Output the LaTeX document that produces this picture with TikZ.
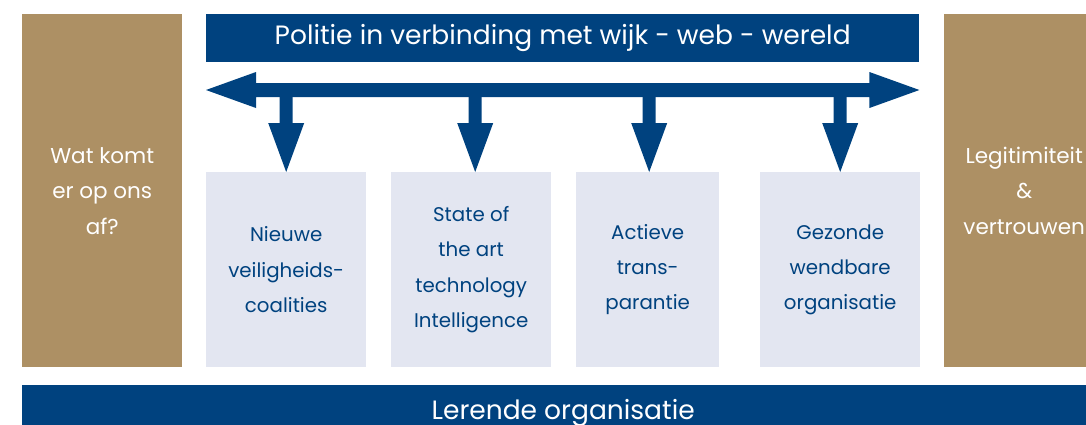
\documentclass[tikz,border=0pt]{standalone}
\usepackage{fontspec}
\setmainfont{Poppins}
\usetikzlibrary{calc}
\definecolor{pblue}{HTML}{00427F}
\definecolor{pgold}{HTML}{AD9064}
\definecolor{plight}{HTML}{E3E6F1}
\tikzset{
  goldbox/.style={fill=pgold, text=white, inner sep=0pt, anchor=north west,
    minimum width=160pt, minimum height=353pt, align=center,
    font=\fontsize{21.5}{35.5}\selectfont},
  lightbox/.style={fill=plight, text=pblue, inner sep=0pt, anchor=north west,
    minimum height=195pt, align=center, font=\fontsize{19.8}{35.3}\selectfont},
  bluebar/.style={fill=pblue, text=white, inner sep=0pt, anchor=north west, align=center},
  arrowshape/.style={fill=pblue, draw=none}
}
\begin{document}
\begin{tikzpicture}[x=1pt,y=-1pt]
\useasboundingbox (0,0) rectangle (1086,424);
\clip (0,0) rectangle (1086,424);
% side boxes
\node[goldbox] (left) at (22,14) {Wat komt\\er op ons\\af?};
\node[goldbox] (right) at (944,14) {Legitimiteit\\\&\\vertrouwen};
% top bar
\node[bluebar, minimum width=713pt, minimum height=48pt, font=\fontsize{26.5}{30}\selectfont] (top) at (206,14) {Politie in verbinding met wijk - web - wereld};
% bottom bar
\node[bluebar, minimum width=1082pt, minimum height=56pt, font=\fontsize{26.5}{30}\selectfont] (bottom) at (22,385) {Lerende organisatie};
% light boxes
\node[lightbox, minimum width=160pt] (b1) at (206,172) {Nieuwe\\veiligheids-\\coalities};
\node[lightbox, minimum width=160pt] (b2) at (391,172) {State of\\the art\\technology\\Intelligence};
\node[lightbox, minimum width=143pt] (b3) at (576,172) {Actieve\\trans-\\parantie};
\node[lightbox, minimum width=160pt] (b4) at (760,172) {Gezonde\\wendbare\\organisatie};
% horizontal double arrow
\coordinate (hl) at (top.west |- 0,90);
\coordinate (hr) at (top.east |- 0,90);
\fill[arrowshape] (hl) -- ($(hl)+(50,-18)$) -- ($(hl)+(50,-7)$) -- ($(hr)+(-50,-7)$) -- ($(hr)+(-50,-18)$)
  -- (hr) -- ($(hr)+(-50,18)$) -- ($(hr)+(-50,7)$) -- ($(hl)+(50,7)$) -- ($(hl)+(50,18)$) -- cycle;
% down arrows
\foreach \b/\dx in {b1/0, b2/4, b3/1.5, b4/0}{
  \coordinate (tip) at ($(\b.north)+(\dx,0)$);
  \fill[arrowshape] ($(tip)+(-6.5,-76)$) -- ($(tip)+(-6.5,-49)$) -- ($(tip)+(-18,-49)$) -- (tip)
    -- ($(tip)+(18,-49)$) -- ($(tip)+(6.5,-49)$) -- ($(tip)+(6.5,-76)$) -- cycle;
}
\end{tikzpicture}
\end{document}
